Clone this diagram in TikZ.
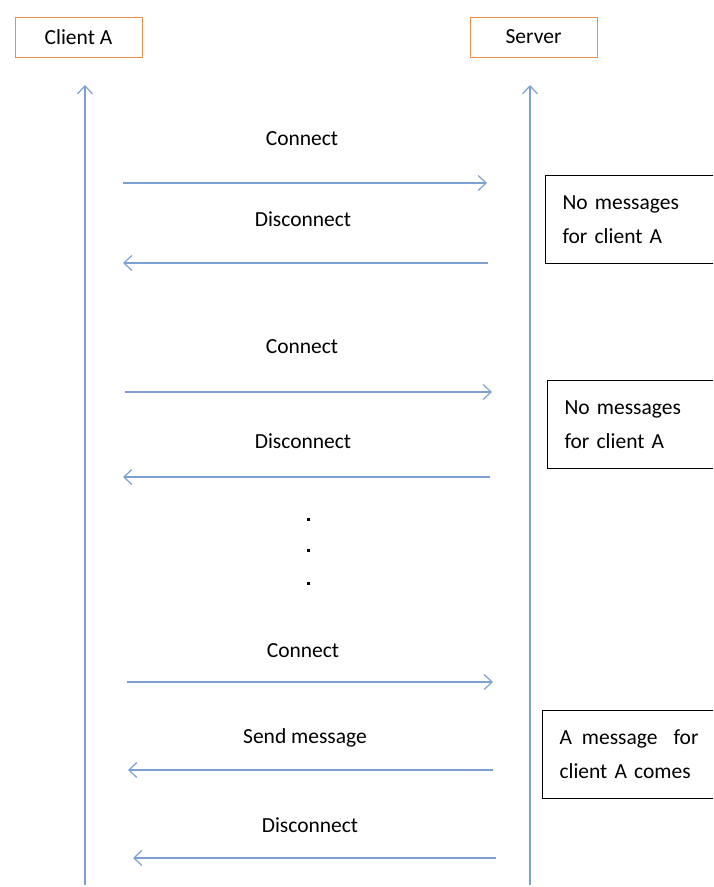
\documentclass[tikz,border=0pt]{standalone}
\usepackage{fontspec}
\setmainfont{Carlito}
\usetikzlibrary{arrows.meta,positioning}

\definecolor{lifeblue}{RGB}{125,160,212}
\definecolor{boxorange}{RGB}{240,140,70}

\tikzset{
    actor/.style={draw=boxorange, line width=1pt, minimum width=127pt,
        minimum height=40pt, inner sep=0pt},
    life/.style={draw=lifeblue, line width=1.2pt},
    msg/.style={draw=lifeblue, line width=1.2pt},
    note/.style={draw=black, line width=1pt, anchor=north west,
        minimum width=200pt, minimum height=88pt, text width=166pt,
        inner xsep=17pt, align=left, font=\fontsize{21.5}{34}\selectfont},
    lbl/.style={inner sep=0pt},
    dot/.style={fill=black, minimum size=3pt, inner sep=0pt},
}

\begin{document}
\begin{tikzpicture}[x=1pt, y=-1pt, >={Straight Barb[length=8pt, width=15pt]},
        font=\fontsize{21.5}{26}\selectfont]
    \useasboundingbox (0,0) rectangle (713,887);
    \clip (0,0) rectangle (713,887);

    % the two parties
    \node[actor] (client) at (78.5, 37) {Client A};
    \node[actor] (server) at (533.5, 37) {Server};

    \coordinate (c0) at (85, 885);
    \coordinate (c1) at (85, 85);
    \coordinate (s0) at (530, 885);
    \coordinate (s1) at (530, 85);
    \draw[life, ->] (c0) -- (c1);
    \draw[life, ->] (s0) -- (s1);

    % first round
    \coordinate (a1) at (123, 183);
    \coordinate (b1) at (487, 183);
    \node[lbl] (con1) at (302, 139) {Connect};
    \draw[msg, ->] (a1) -- (b1);

    \coordinate (a2) at (488, 263);
    \coordinate (b2) at (123, 263);
    \node[lbl] (dis1) at (303, 219) {Disconnect};
    \draw[msg, ->] (a2) -- (b2);

    \node[note] (nb1) at (545, 175) {No messages\\for client A};

    % second round
    \coordinate (a3) at (125, 392);
    \coordinate (b3) at (492, 392);
    \node[lbl] (con2) at (302, 347) {Connect};
    \draw[msg, ->] (a3) -- (b3);

    \coordinate (a4) at (490, 477);
    \coordinate (b4) at (123, 477);
    \node[lbl] (dis2) at (303, 441) {Disconnect};
    \draw[msg, ->] (a4) -- (b4);

    \node[note] (nb2) at (547, 380) {No messages\\for client A};

    \node[dot] (d1) at (308, 519) {};
    \node[dot] (d2) at (308, 550) {};
    \node[dot] (d3) at (308, 583) {};

    % last round
    \coordinate (a5) at (127, 682);
    \coordinate (b5) at (493, 682);
    \node[lbl] (con3) at (303, 651) {Connect};
    \draw[msg, ->] (a5) -- (b5);

    \coordinate (a6) at (493, 770);
    \coordinate (b6) at (128, 770);
    \node[lbl] (send) at (305, 738) {Send message};
    \draw[msg, ->] (a6) -- (b6);

    \coordinate (a7) at (496, 858);
    \coordinate (b7) at (133, 858);
    \node[lbl] (dis3) at (310, 825) {Disconnect};
    \draw[msg, ->] (a7) -- (b7);

    \node[note, minimum height=88pt, inner xsep=15pt] (nb3) at (542, 710)
        {A\hspace{10pt}message\hspace{16pt}for\\client A comes};
\end{tikzpicture}
\end{document}
